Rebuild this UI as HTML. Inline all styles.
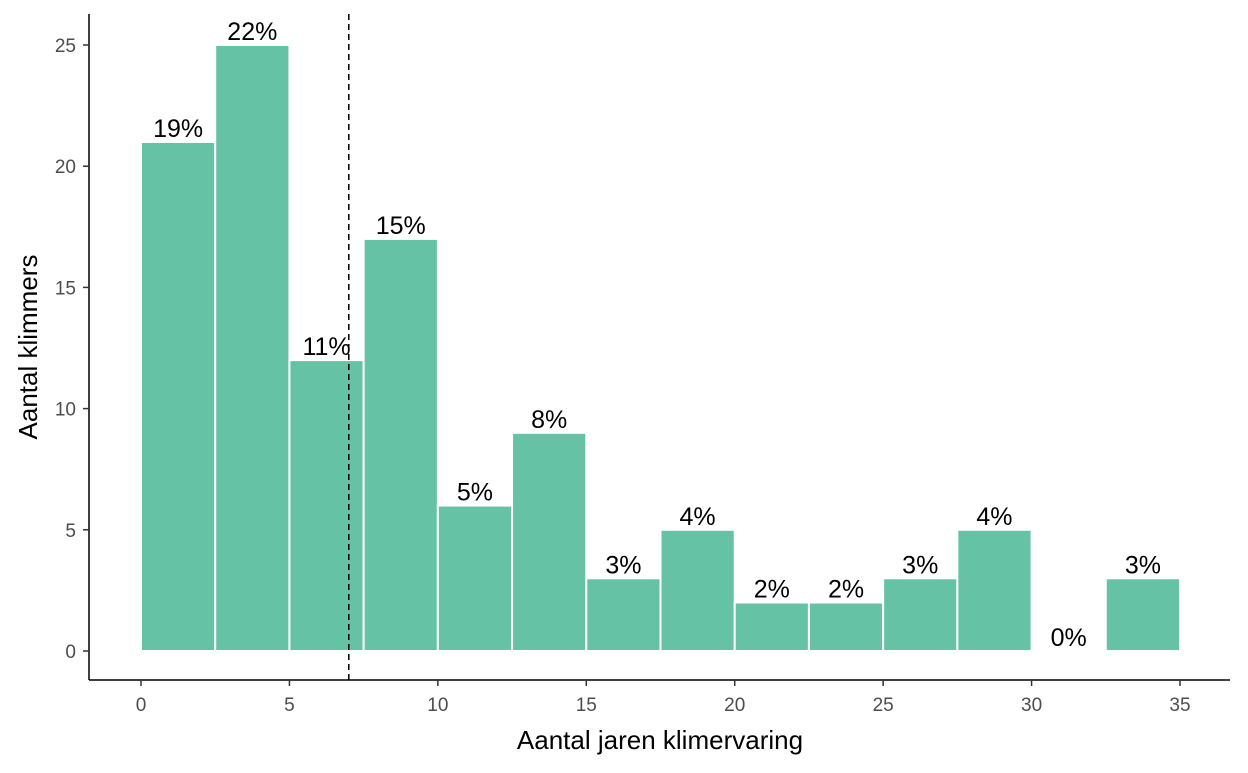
<!DOCTYPE html>
<html><head><meta charset="utf-8"><style>
body{margin:0;background:#fff}
svg{font-family:"Liberation Sans",Arial,sans-serif}
</style></head><body>
<svg id="chart" width="1248" height="768" xmlns="http://www.w3.org/2000/svg"></svg>
<script>
const binStarts=[0,2.5,5,7.5,10,12.5,15,17.5,20,22.5,25,27.5,30,32.5];
const counts=[21,25,12,17,6,9,3,5,2,2,3,5,0,3];
const pctLabels=["19%","22%","11%","15%","5%","8%","3%","4%","2%","2%","3%","4%","0%","3%"];
const xTicks=[0,5,10,15,20,25,30,35];
const yTicks=[0,5,10,15,20,25];
const binWidth=2.5;
const meanLine=7;
const NS="http://www.w3.org/2000/svg";
const svg=document.getElementById('chart');
const X=v=>141+v*(1039/35);
const Y=v=>651-v*(606/25);
function mk(t,a,p){const e=document.createElementNS(NS,t);for(const k in a)e.setAttribute(k,a[k]);(p||svg).appendChild(e);return e;}
binStarts.forEach((b,i)=>{
  const r=mk('rect',{x:X(b),y:Y(counts[i]),width:X(b+binWidth)-X(b),height:Y(0)-Y(counts[i]),fill:'#66c2a5',stroke:'#fff','stroke-width':2});
  
  
  const t=mk('text',{x:X(b+binWidth/2),y:Y(counts[i])-5,'text-anchor':'middle','font-size':25,fill:'#000'});
  t.textContent=pctLabels[i];
  
  
});
const dl=mk('line',{x1:X(meanLine),x2:X(meanLine),y1:14,y2:680,stroke:'#000','stroke-width':1.5,'stroke-dasharray':'6,4'});


const ya=mk('line',{x1:89,x2:89,y1:14,y2:680,stroke:'#000','stroke-width':1.5});


const xa=mk('line',{x1:89,x2:1230,y1:680,y2:680,stroke:'#000','stroke-width':1.5});


xTicks.forEach(v=>{
  mk('line',{x1:X(v),x2:X(v),y1:680,y2:686,stroke:'#333','stroke-width':1.5});
  const t=mk('text',{x:X(v),y:711,'text-anchor':'middle','font-size':19,fill:'#4d4d4d'});
  t.textContent=v;
  
  
});
yTicks.forEach(v=>{
  mk('line',{x1:83,x2:89,y1:Y(v),y2:Y(v),stroke:'#333','stroke-width':1.5});
  const t=mk('text',{x:76,y:Y(v)+7,'text-anchor':'end','font-size':19,fill:'#4d4d4d'});
  t.textContent=v;
  
  
});
const xt=mk('text',{x:660,y:749,'text-anchor':'middle','font-size':26,fill:'#000'});
xt.textContent='Aantal jaren klimervaring';


const yt=mk('text',{x:37,y:347,'text-anchor':'middle','font-size':26,fill:'#000',transform:'rotate(-90 37 347)'});
yt.textContent='Aantal klimmers';


</script>
</body></html>
